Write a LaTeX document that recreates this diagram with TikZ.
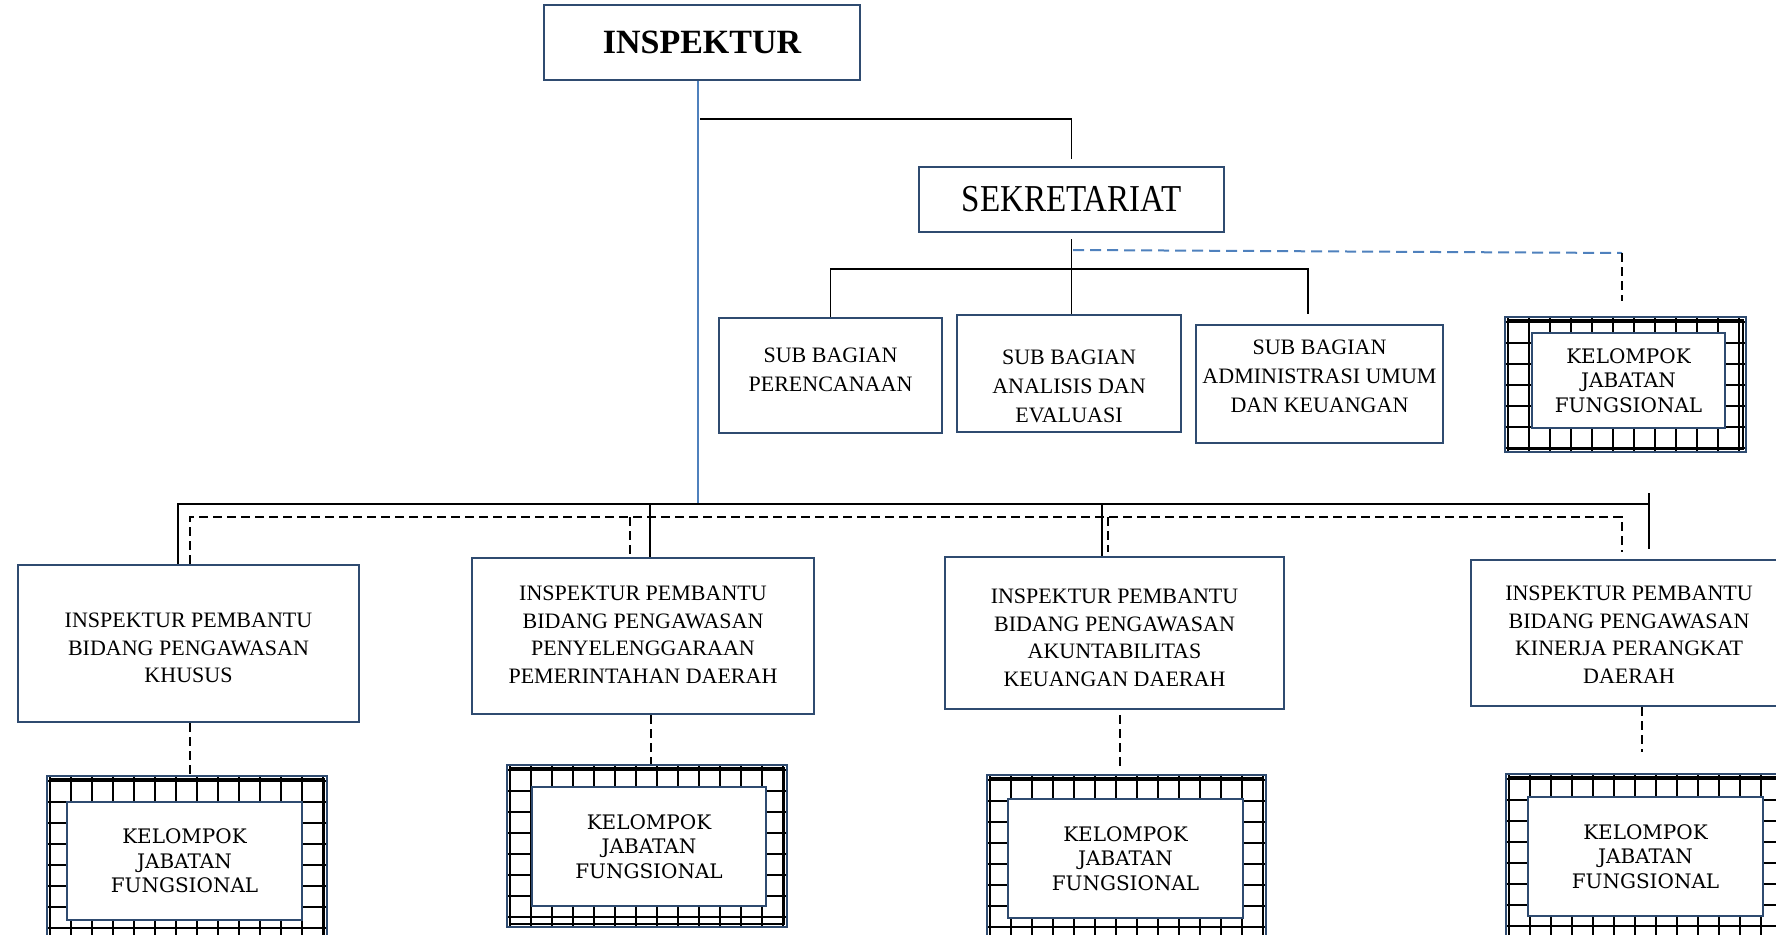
\documentclass[tikz,border=0pt]{standalone}
\usepackage{fontspec}
\usepackage{graphicx}
\setmainfont{Liberation Serif}
\newfontfamily\kjf{DejaVu Serif}
\definecolor{boxblue}{RGB}{47,75,112}
\definecolor{linkblue}{RGB}{79,129,189}
\newcommand{\bxt}[4]{\parbox[c][#2pt][t]{#1pt}{\centering\vspace*{#3pt}#4\par}}
\begin{document}
\begin{tikzpicture}[x=1pt,y=-1pt,
  orgbox/.style={draw=boxblue, line width=2.4pt, fill=white, inner sep=0pt},
  subtxt/.style={font=\fontsize{22}{29}\selectfont},
  iptxt/.style={font=\fontsize{22}{27.5}\selectfont},
  kjbox/.style={orgbox, align=center, font=\kjf\fontsize{20}{24.5}\selectfont},
  gridline/.style={black, line width=2.9pt},
  gridframe/.style={draw=boxblue, line width=2.2pt, inner sep=0pt, fill=white,
    path picture={
      \draw[gridline] ([xshift=3pt,yshift=-3pt]path picture bounding box.north west) rectangle ([xshift=-3pt,yshift=3pt]path picture bounding box.south east);
      \foreach \k in {0,...,14}{
        \draw[gridline] ([xshift={(3+21*\k)*1pt}]path picture bounding box.north west) -- ([xshift={(3+21*\k)*1pt}]path picture bounding box.south west);
        \draw[gridline] ([yshift={-(5+21*\k)*1pt}]path picture bounding box.north west) -- ([yshift={-(5+21*\k)*1pt}]path picture bounding box.north east);
      }
    }},
  conn/.style={black, line width=1.8pt},
  blackdash/.style={black, line width=1.8pt, dash pattern=on 9pt off 5pt},
  bluedash/.style={linkblue, line width=2pt, dash pattern=on 11pt off 6pt},
  blueline/.style={linkblue, line width=1.5pt},
]
\useasboundingbox (0,0) rectangle (1776,934);
\clip (0,0) rectangle (1776,934);

% top
\node[orgbox, minimum width=316pt, minimum height=75pt, font={\bfseries\fontsize{34}{40}\selectfont}] (ins) at (702,42.5) {INSPEKTUR};
\node[orgbox, minimum width=305pt, minimum height=65pt, font={\fontsize{38}{42}\selectfont}] (sek) at (1071.5,199.5) {\scalebox{0.87}[1]{SEKRETARIAT}};

% sub bagian
\node[orgbox, subtxt] (per) at (830.5,375.5) {\bxt{223}{115}{30}{SUB BAGIAN\\PERENCANAAN}};
\node[orgbox, subtxt] (ana) at (1069,373.5) {\bxt{224}{117}{35}{SUB BAGIAN\\ANALISIS DAN\\EVALUASI}};
\node[orgbox, subtxt] (adm) at (1319.5,384) {\bxt{247}{118}{15}{SUB BAGIAN\\ADMINISTRASI UMUM\\DAN KEUANGAN}};

% inspektur pembantu
\node[orgbox, iptxt] (ip1) at (188.5,643.5) {\bxt{341}{157}{48}{INSPEKTUR PEMBANTU\\BIDANG PENGAWASAN\\KHUSUS}};
\node[orgbox, iptxt] (ip2) at (643,636) {\bxt{342}{156}{28}{INSPEKTUR PEMBANTU\\BIDANG PENGAWASAN\\PENYELENGGARAAN\\PEMERINTAHAN DAERAH}};
\node[orgbox, iptxt] (ip3) at (1114.5,633) {\bxt{339}{152}{32}{INSPEKTUR PEMBANTU\\BIDANG PENGAWASAN\\AKUNTABILITAS\\KEUANGAN DAERAH}};
\node[orgbox, iptxt] (ip4) at (1629,633) {\bxt{316}{146}{26}{INSPEKTUR PEMBANTU\\BIDANG PENGAWASAN\\KINERJA PERANGKAT\\DAERAH}};

% kelompok jabatan fungsional (grid frames)
\node[gridframe, minimum width=241pt, minimum height=135pt] (k0o) at (1625.5,384.5) {};
\node[gridframe, minimum width=280pt, minimum height=168pt] (k1o) at (187,860) {};
\node[gridframe, minimum width=280pt, minimum height=162pt] (k2o) at (647,846) {};
\node[gridframe, minimum width=279pt, minimum height=167pt] (k3o) at (1126.5,858.5) {};
\node[gridframe, minimum width=279pt, minimum height=165pt] (k4o) at (1645.5,856.5) {};

\node[kjbox, minimum width=193pt, minimum height=95pt] (k0) at (1628.5,380.5) {KELOMPOK\\JABATAN\\FUNGSIONAL};
\node[kjbox, minimum width=235pt, minimum height=118pt] (k1) at (184.5,861) {KELOMPOK\\JABATAN\\FUNGSIONAL};
\node[kjbox, minimum width=234pt, minimum height=119pt] (k2) at (649,846.5) {KELOMPOK\\JABATAN\\FUNGSIONAL};
\node[kjbox, minimum width=235pt, minimum height=119pt] (k3) at (1125.5,858.5) {KELOMPOK\\JABATAN\\FUNGSIONAL};
\node[kjbox, minimum width=235pt, minimum height=119pt] (k4) at (1645.5,856.5) {KELOMPOK\\JABATAN\\FUNGSIONAL};

% connectors top
\coordinate (j0) at (698,504);
\draw[blueline] (ins.south -| j0) -- (j0);
\coordinate (a1) at (700,119);
\draw[conn] (a1) -| ([yshift=7pt]sek.north);
\draw[conn] ([yshift=-6pt]sek.south) -- (sek.south |- ana.north);
\coordinate (h2) at (1308,269);
\draw[conn] (per.north) |- (h2) -- ([yshift=10pt]h2 |- adm.north);
\coordinate (d1) at (1073,250);
\coordinate (d2) at (1622,253);
\draw[bluedash] (d1) -- (d2);
\draw[blackdash] (d2) -- ([yshift=15pt]d2 |- k0o.north);

% lower bus
\coordinate (b1) at (178,504);
\coordinate (b2) at (650,504);
\coordinate (b3) at (1102,504);
\coordinate (b4) at (1649,504);
\draw[conn] (b1 |- ip1.north) -- (b1) -- (b4);
\draw[conn] (b2) -- (b2 |- ip2.north);
\draw[conn] (b3) -- (b3 |- ip3.north);
\draw[conn] ([yshift=11pt]b4) -- ([yshift=10pt]b4 |- ip4.north);

\coordinate (e1) at (190,517);
\coordinate (e2) at (630,517);
\coordinate (e3) at (1108,517);
\coordinate (e4) at (1622,517);
\draw[blackdash] (e1 |- ip1.north) -- (e1) -- (e4) -- ([yshift=7pt]e4 |- ip4.north);
\draw[blackdash] (e2) -- ([yshift=2pt]e2 |- ip2.north);
\draw[blackdash] (e3) -- ([yshift=4pt]e3 |- ip3.north);

% to kelompok
\draw[blackdash] ([xshift=1.5pt]ip1.south) -- ([xshift=1.5pt]ip1.south |- k1o.north);
\draw[blackdash] ([xshift=8pt]ip2.south) -- ([xshift=8pt]ip2.south |- k2o.north);
\draw[blackdash, shorten <=5pt, shorten >=7pt] ([xshift=5.5pt]ip3.south) -- ([xshift=5.5pt]ip3.south |- k3o.north);
\draw[blackdash, shorten >=21pt] ([xshift=13pt]ip4.south) -- ([xshift=13pt]ip4.south |- k4o.north);
\end{tikzpicture}
\end{document}
